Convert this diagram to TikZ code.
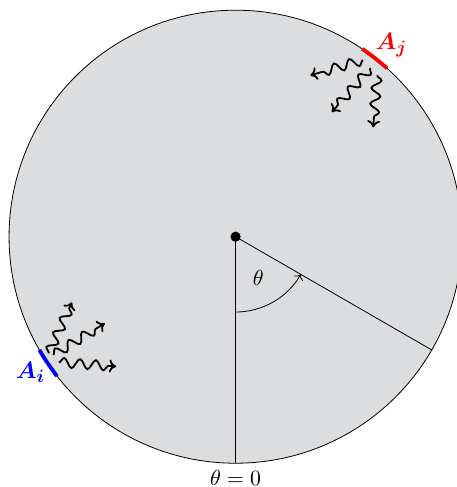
\documentclass[tikz,border=0pt]{standalone}
\usepackage{amsmath,amssymb}
\usepackage{bm}
\usepackage{xcolor}
\usetikzlibrary{decorations.pathmorphing,arrows.meta}
\definecolor{diskgray}{RGB}{220,221,223}
\tikzset{photon/.style={line width=0.9pt, -{To[length=3.5pt,width=6.5pt]}, decorate, decoration={snake, amplitude=2.4pt, segment length=8pt, post length=3pt}},
  lbl/.style={font=\fontsize{11.3pt}{13.5pt}\selectfont}}

\begin{document}
\begin{tikzpicture}
\useasboundingbox (-4.16,-4.42) rectangle (3.91,4.18);
\filldraw[fill=diskgray, draw=black] (0,0) circle (4cm);
\coordinate (O) at (0,0);
\coordinate (B) at (-90:4);
\coordinate (E) at (-30:4);
\draw (O) -- (B);
\draw (O) -- (E);
\node[lbl, text=black, below] (zero) at (B) {$\theta = 0$};
\draw[->] (-90:1.33) arc (-90:-30:1.33);
\node[lbl, text=black] (th) at (0.40,-0.72) {$\theta$};
\fill[black] (O) circle (0.09cm);
% detector segments
\draw[red, line width=1.9pt] (48:4) arc (48:56:4);
\draw[blue, line width=1.9pt] (210:4) arc (210:218:4);
\node[text=red, font=\fontsize{13pt}{15pt}\selectfont] (Aj) at (2.75,3.38) {$\bm{A_j}$};
\node[text=blue, font=\fontsize{13pt}{15pt}\selectfont] (Ai) at (-3.62,-2.39) {$\bm{A_i}$};
% emitted photons
\coordinate (r1s) at (2.25,3.12);
\coordinate (r1e) at (1.32,2.85);
\coordinate (r2s) at (2.38,2.98);
\coordinate (r2e) at (1.70,2.20);
\coordinate (r3s) at (2.50,2.85);
\coordinate (r3e) at (2.43,1.93);
\draw[photon] (r1s) -- (r1e);
\draw[photon] (r2s) -- (r2e);
\draw[photon] (r3s) -- (r3e);
\coordinate (b1s) at (-3.30,-2.06);
\coordinate (b1e) at (-2.89,-1.16);
\coordinate (b2s) at (-3.22,-2.09);
\coordinate (b2e) at (-2.31,-1.53);
\coordinate (b3s) at (-3.12,-2.22);
\coordinate (b3e) at (-2.11,-2.29);
\draw[photon] (b1s) -- (b1e);
\draw[photon] (b2s) -- (b2e);
\draw[photon] (b3s) -- (b3e);
\end{tikzpicture}
\end{document}
